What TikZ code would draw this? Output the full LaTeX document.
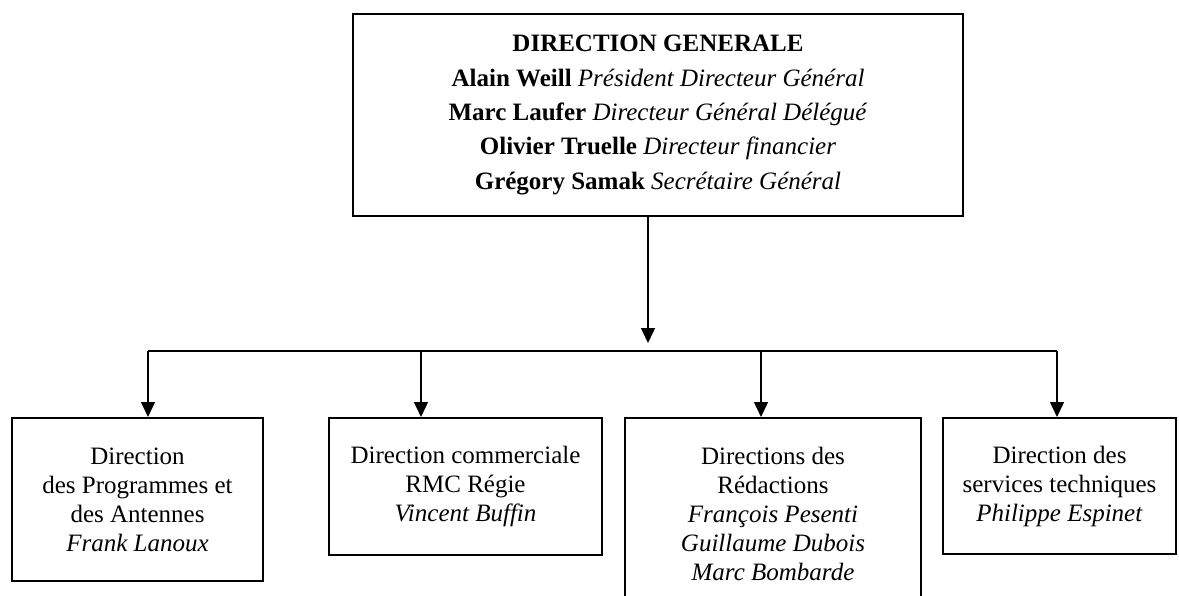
\documentclass[tikz,border=0pt]{standalone}
\usepackage{fontspec}
\setmainfont{Liberation Serif}
\usetikzlibrary{arrows.meta}

\begin{document}
\begin{tikzpicture}[x=0.5pt,y=-0.5pt,
    box/.style={draw,line width=1pt,align=center,inner sep=0pt,
      font=\fontsize{12.5}{14.5}\selectfont},
    arr/.style={line width=0.7pt,-{Triangle[length=7.5pt,width=7pt]}}]
            \useasboundingbox (0,0) rectangle (1179,595);
            \clip (0,0) rectangle (1179,595);
            \node[box,minimum width=305pt,minimum height=101pt,
              font=\fontsize{12.5}{17.2}\selectfont] (dg) at (658,115)
              {\textbf{DIRECTION GENERALE}\\
               \textbf{Alain Weill} \textit{Président Directeur Général}\\
               \textbf{Marc Laufer} \textit{Directeur Général Délégué}\\
               \textbf{Olivier Truelle} \textit{Directeur financier}\\
               \textbf{Grégory Samak} \textit{Secrétaire Général}};
            \node[box,minimum width=125.5pt,minimum height=81.5pt] (prog) at (137.5,499.5)
              {Direction\\des Programmes et\\des Antennes\\\textit{Frank Lanoux}};
            \node[box,minimum width=136.5pt,minimum height=68.5pt] (com) at (465.5,486.5)
              {Direction commerciale\\RMC Régie\\\textit{Vincent Buffin}};
            \node[box,minimum width=148pt,minimum height=95.5pt] (red) at (773,513.5)
              {Directions des\\Rédactions\\\textit{François Pesenti}\\
               \textit{Guillaume Dubois}\\\textit{Marc Bombarde}};
            \node[box,minimum width=116.5pt,minimum height=68pt] (tech) at (1059.5,486)
              {Direction des\\services techniques\\\textit{Philippe Espinet}};
            \coordinate (hub) at (648,343);
            \coordinate (busl) at (148,351);
            \coordinate (busr) at (1057,351);
            \draw[arr] (dg.south -| hub) -- (hub);
            \draw[line width=0.7pt] (busl) -- (busr);
            \foreach \b/\x in {prog/148,com/421,red/761,tech/1057}
              {\coordinate (d\b) at (\x,351);
               \draw[arr] (d\b) -- (d\b |- \b.north);}
        \end{tikzpicture}
\end{document}
